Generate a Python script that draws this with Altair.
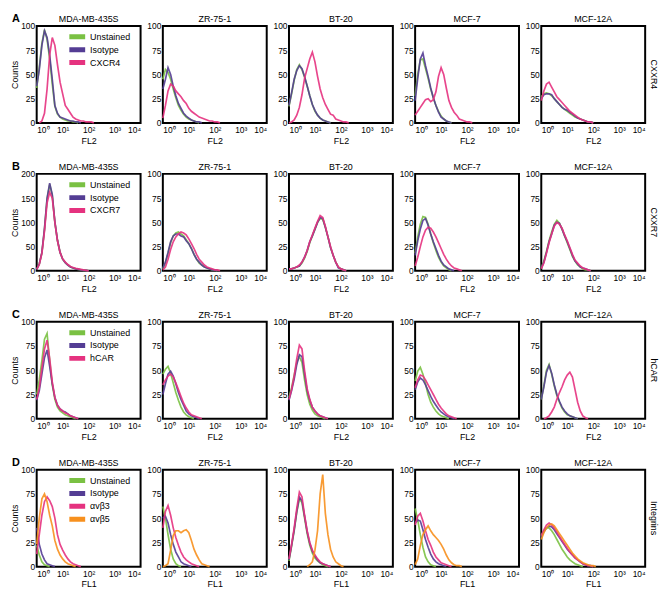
import altair as alt
import pandas as pd

FONT = "Liberation Sans, Arial, Helvetica, sans-serif"

STEP = 0.1  # spacing of the read-off points, in decades of fluorescence
CELL_LINES = ["MDA-MB-435S", "ZR-75-1", "BT-20", "MCF-7", "MCF-12A"]
ROW_LETTERS = ["A", "B", "C", "D"]
ROW_LABELS = ["CXXR4", "CXXR7", "hCAR", "Integrins"]
X_TITLES = ["FL2", "FL2", "FL2", "FL1"]
SERIES = [
    ["Unstained", "Isotype", "CXCR4"],
    ["Unstained", "Isotype", "CXCR7"],
    ["Unstained", "Isotype", "hCAR"],
    ["Unstained", "Isotype", "αvβ3", "αvβ5"],
]
X_TICKS = [0, 1, 2, 3, 4]
Y_TICKS_100 = [0, 25, 50, 75, 100]
Y_TICKS_200 = [0, 50, 100, 150, 200]
Y_MAX = [[100] * 5, [200, 100, 100, 100, 100], [100] * 5, [100] * 5]

COLORS = {
    "Unstained": "#7ac143",
    "Isotype": "#543d94",
    "CXCR4": "#e5327f",
    "CXCR7": "#e5327f",
    "hCAR": "#e5327f",
    "αvβ3": "#e5327f",
    "αvβ5": "#f7901e",
}

# ---- counts, one value per 0.1 decade starting at 10^0 ----
ROW_A = {
    "MDA-MB-435S": [
        [36, 57, 82, 96, 86, 66, 40, 17, 9, 6, 4, 3, 2, 2, 1, 1, 0],
        [38, 55, 80, 95, 88, 70, 45, 18, 10, 6, 5, 4, 3, 2, 2, 1, 1, 0],
        [0, 0, 2, 10, 35, 70, 88, 80, 60, 42, 30, 18, 14, 10, 6, 4, 3, 2, 2, 1, 1, 1, 0],
    ],
    "ZR-75-1": [
        [45, 55, 52, 45, 35, 26, 18, 13, 9, 6, 4, 3, 2, 1, 0],
        [35, 45, 57, 50, 38, 28, 20, 15, 10, 7, 5, 3, 2, 1, 1, 0],
        [5, 18, 33, 40, 38, 33, 30, 27, 23, 20, 15, 12, 10, 8, 6, 5, 4, 3, 2, 2, 1, 1, 0],
    ],
    "BT-20": [
        [17, 30, 44, 55, 60, 55, 47, 38, 28, 19, 12, 8, 5, 3, 2, 1, 0],
        [18, 31, 45, 54, 59, 56, 48, 38, 28, 19, 13, 8, 5, 3, 2, 1, 0],
        [0, 1, 3, 8, 16, 29, 46, 56, 66, 73, 63, 48, 35, 26, 19, 14, 9, 8, 4, 3, 2, 1, 1, 0],
    ],
    "MCF-7": [
        [28, 50, 65, 66, 56, 46, 35, 26, 18, 12, 7, 4, 2, 1, 0],
        [23, 46, 66, 72, 59, 48, 36, 26, 18, 11, 6, 4, 2, 1, 0],
        [8, 12, 16, 20, 24, 25, 22, 24, 32, 48, 57, 50, 36, 23, 16, 11, 8, 4, 3, 2, 1, 1, 0],
    ],
    "MCF-12A": [
        [27, 30, 31, 30, 28, 25, 22, 19, 16, 14, 12, 10, 8, 6, 5, 4, 3, 2, 1, 1, 0],
        [25, 29, 30, 30, 29, 25, 22, 19, 16, 14, 13, 11, 9, 7, 5, 4, 3, 2, 1, 1, 0],
        [23, 33, 40, 42, 37, 32, 27, 24, 21, 18, 15, 12, 10, 8, 6, 4, 3, 2, 1, 1, 0],
    ],
}
ROW_B = {
    "MDA-MB-435S": [
        [3, 14, 37, 85, 148, 178, 155, 100, 63, 38, 24, 17, 12, 8, 6, 4, 3, 2, 1, 1, 0],
        [3, 14, 38, 87, 150, 181, 157, 101, 63, 38, 24, 17, 12, 8, 6, 4, 3, 2, 1, 1, 0],
        [3, 13, 36, 82, 140, 162, 150, 100, 62, 38, 25, 18, 13, 9, 7, 5, 4, 3, 2, 1, 0],
    ],
    "ZR-75-1": [
        [2, 8, 18, 29, 36, 39, 40, 38, 36, 32, 28, 23, 17, 12, 8, 6, 4, 3, 2, 1, 1, 0],
        [3, 9, 19, 30, 36, 38, 38, 36, 35, 31, 28, 23, 17, 12, 9, 6, 4, 3, 2, 1, 1, 0],
        [1, 4, 12, 22, 30, 35, 38, 40, 39, 37, 33, 28, 23, 17, 12, 9, 6, 4, 3, 2, 1, 1, 0],
    ],
    "BT-20": [
        [2, 2, 3, 4, 5, 8, 13, 20, 29, 36, 43, 50, 54, 53, 45, 35, 24, 16, 9, 4, 2, 1, 0],
        [2, 2, 3, 4, 5, 9, 14, 21, 30, 36, 43, 50, 55, 54, 45, 35, 24, 16, 9, 3, 2, 1, 0],
        [2, 2, 3, 4, 6, 9, 14, 21, 30, 37, 44, 51, 57, 55, 46, 35, 25, 16, 9, 4, 2, 1, 0],
    ],
    "MCF-7": [
        [18, 35, 48, 56, 55, 48, 38, 29, 21, 14, 9, 5, 3, 1, 0],
        [16, 31, 43, 52, 54, 47, 38, 30, 23, 16, 10, 6, 4, 2, 1, 0],
        [5, 14, 25, 35, 42, 45, 44, 40, 35, 29, 23, 17, 12, 8, 5, 3, 2, 1, 0],
    ],
    "MCF-12A": [
        [3, 10, 20, 31, 40, 48, 52, 49, 43, 36, 29, 22, 15, 10, 6, 4, 2, 1, 1, 0],
        [3, 9, 19, 30, 38, 47, 50, 49, 43, 36, 30, 23, 16, 10, 7, 4, 3, 2, 1, 0],
        [2, 8, 18, 29, 38, 46, 50, 48, 44, 37, 31, 24, 17, 11, 8, 5, 3, 2, 1, 0],
    ],
}
ROW_C = {
    "MDA-MB-435S": [
        [25, 40, 60, 82, 88, 60, 35, 20, 12, 8, 6, 4, 3, 2, 1, 0],
        [19, 29, 46, 63, 71, 54, 36, 22, 14, 10, 8, 7, 5, 3, 2, 1, 0],
        [20, 32, 52, 72, 81, 62, 38, 22, 14, 10, 8, 6, 5, 3, 2, 1, 0],
    ],
    "ZR-75-1": [
        [46, 51, 54, 47, 37, 27, 19, 12, 7, 4, 2, 1, 0],
        [25, 36, 46, 49, 44, 36, 27, 20, 14, 8, 5, 3, 2, 1, 0],
        [35, 40, 44, 46, 43, 37, 30, 23, 16, 11, 7, 4, 3, 2, 1, 0],
    ],
    "BT-20": [
        [22, 32, 45, 58, 64, 58, 40, 25, 15, 9, 5, 3, 2, 1, 0],
        [19, 29, 41, 56, 66, 64, 46, 29, 19, 12, 8, 5, 3, 2, 1, 0],
        [20, 30, 44, 62, 76, 72, 50, 31, 20, 12, 8, 5, 3, 2, 1, 0],
    ],
    "MCF-7": [
        [39, 49, 53, 46, 36, 25, 17, 12, 8, 5, 3, 2, 1, 0],
        [30, 38, 42, 40, 35, 29, 23, 18, 14, 10, 7, 5, 3, 2, 1, 0],
        [32, 40, 45, 44, 40, 35, 30, 25, 20, 15, 11, 8, 5, 3, 2, 1, 0],
    ],
    "MCF-12A": [
        [20, 34, 50, 56, 46, 34, 24, 17, 11, 7, 4, 3, 2, 1, 0],
        [20, 33, 48, 55, 47, 35, 25, 18, 12, 8, 5, 3, 2, 1, 0],
        [0, 0, 1, 3, 7, 12, 20, 27, 33, 40, 45, 48, 43, 30, 17, 8, 3, 1, 0],
    ],
}
ROW_D = {
    "MDA-MB-435S": [
        [22, 12, 5, 2, 1, 0],
        [40, 23, 13, 7, 3, 2, 1, 0],
        [13, 33, 53, 67, 72, 68, 62, 50, 33, 23, 17, 12, 8, 5, 3, 2, 1, 0],
        [23, 50, 70, 75, 67, 53, 42, 27, 18, 12, 8, 5, 3, 2, 1, 0],
    ],
    "ZR-75-1": [
        [62, 50, 33, 18, 8, 3, 1, 0],
        [50, 52, 45, 33, 23, 15, 10, 5, 3, 2, 1, 0],
        [40, 57, 63, 53, 40, 30, 22, 15, 10, 7, 5, 3, 2, 1, 0],
        [0, 1, 3, 17, 32, 37, 37, 35, 37, 38, 35, 27, 18, 12, 7, 3, 2, 1, 0],
    ],
    "BT-20": [
        [6, 21, 37, 56, 70, 66, 50, 34, 22, 14, 9, 6, 4, 2, 1, 0],
        [7, 22, 38, 57, 72, 68, 52, 36, 24, 16, 11, 7, 4, 3, 2, 1, 0],
        [8, 23, 40, 60, 77, 72, 53, 37, 25, 17, 12, 8, 5, 3, 2, 1, 0],
        [0, 0, 0, 0, 0, 0, 0, 0, 2, 5, 17, 37, 75, 95, 55, 33, 18, 10, 5, 3, 1, 0],
    ],
    "MCF-7": [
        [60, 48, 33, 20, 10, 5, 2, 1, 0],
        [45, 48, 47, 38, 28, 20, 13, 8, 5, 3, 2, 1, 0],
        [43, 52, 55, 47, 37, 28, 22, 15, 10, 7, 4, 3, 2, 1, 0],
        [2, 8, 22, 33, 38, 42, 37, 33, 30, 27, 23, 18, 12, 7, 4, 2, 1, 1, 0],
    ],
    "MCF-12A": [
        [32, 37, 40, 40, 37, 33, 28, 23, 18, 14, 10, 7, 5, 3, 2, 1, 0],
        [30, 36, 40, 42, 41, 38, 34, 30, 26, 22, 18, 15, 12, 9, 7, 5, 3, 2, 1, 1, 0],
        [32, 38, 43, 45, 43, 40, 36, 31, 27, 23, 19, 15, 12, 9, 7, 5, 3, 2, 1, 1, 0],
        [28, 35, 40, 43, 44, 42, 38, 34, 30, 26, 22, 18, 14, 11, 8, 6, 4, 3, 2, 1, 1, 0],
    ],
}
ROWS = [ROW_A, ROW_B, ROW_C, ROW_D]

W, H = 105, 98
H_SPACING, V_SPACING = 22.5, 51.5


def panel_frame(r, c):
    recs = []
    for name, vals in zip(SERIES[r], ROWS[r][CELL_LINES[c]]):
        # skip the run of leading zeros (keep the last one so the curve starts on the baseline)
        first = 0
        while first < len(vals) - 1 and vals[first] == 0 and vals[first + 1] == 0:
            first += 1
        for i in range(first, len(vals)):
            recs.append({"x": round(i * STEP, 2), "y": vals[i], "s": name})
    return pd.DataFrame(recs)


def label_layer(text, **mark_kw):
    return alt.Chart(pd.DataFrame({"t": [text]})).mark_text(font=FONT, color="black", **mark_kw)


def panel(r, c):
    names = SERIES[r]
    ymax = Y_MAX[r][c]
    yticks = Y_TICKS_200 if ymax == 200 else Y_TICKS_100
    if c == 0:
        legend = alt.Legend(
            orient="none", legendX=33, legendY=6, title=None,
            symbolType="M-2,0H2", symbolSize=81, symbolStrokeWidth=5,
            symbolOpacity=1, labelFontSize=9, labelFont=FONT, labelColor="black",
            clipHeight=10, rowPadding=3, labelOffset=7, padding=0,
        )
    else:
        legend = None
    line = alt.Chart(panel_frame(r, c)).mark_line(strokeWidth=1.7, opacity=0.9).encode(
        x=alt.X(
            "x:Q",
            scale=alt.Scale(domain=[0, 4], nice=False, zero=False),
            axis=alt.Axis(
                values=X_TICKS,
                labelExpr="'10' + ['⁰','¹','²','³','⁴'][datum.value]",
                title=X_TITLES[r],
                labelPadding=3, titlePadding=2,
            ),
        ),
        y=alt.Y(
            "y:Q",
            scale=alt.Scale(domain=[0, ymax], nice=False),
            axis=alt.Axis(
                values=yticks,
                title="Counts" if c == 0 else None,
                labelPadding=2, titlePadding=1,
            ),
        ),
        color=alt.Color(
            "s:N",
            scale=alt.Scale(domain=names, range=[COLORS[n] for n in names]),
            legend=legend,
        ),
    )
    layers = [
        line,
        label_layer(CELL_LINES[c], align="center", baseline="alphabetic", fontSize=9)
        .encode(text="t:N", x=alt.value(W / 2), y=alt.value(-4)),
    ]
    if c == 0:
        layers.append(
            label_layer(ROW_LETTERS[r], align="left", baseline="alphabetic", fontSize=11, fontWeight="bold")
            .encode(text="t:N", x=alt.value(-25), y=alt.value(-4))
        )
    if c == 4:
        layers.append(
            label_layer(ROW_LABELS[r], align="center", baseline="middle", angle=90, fontSize=9)
            .encode(text="t:N", x=alt.value(W + 9), y=alt.value(H / 2))
        )
    return alt.layer(*layers).properties(width=W, height=H)


panels = [panel(r, c) for r in range(4) for c in range(5)]

chart = (
    alt.concat(*panels, columns=5, spacing={"row": V_SPACING, "column": H_SPACING}, bounds="flush")
    .resolve_scale(color="independent", x="independent", y="independent")
    .properties(padding={"left": 1, "top": 1, "right": 1, "bottom": 1})
    .configure_view(stroke="black", strokeWidth=2)
    .configure_axis(
        grid=False, domain=False, ticks=False,
        labelFont=FONT, labelFontSize=8.5, labelColor="black",
        titleFont=FONT, titleFontSize=9, titleFontWeight="normal", titleColor="black",
    )
)

chart.save("out.html", embed_options={"renderer": "svg", "actions": False})
